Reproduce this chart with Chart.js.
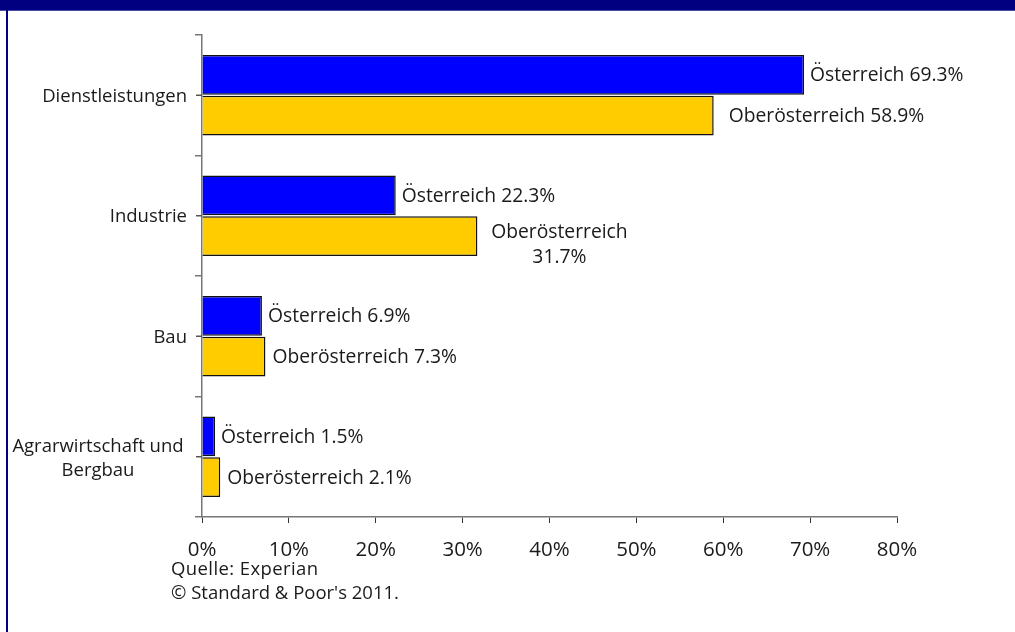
<!DOCTYPE html>
<html>
<head>
<meta charset="utf-8">
<script src="https://cdn.jsdelivr.net/npm/chart.js@4"></script>
<style>
  html, body { margin: 0; padding: 0; background: #fff; }
  #wrap { position: relative; width: 1015px; height: 632px; overflow: hidden; }
  #band { position: absolute; left: 0; top: 0; width: 1015px; height: 10px; background: #000080; border-bottom: 1px solid #4a4aa8; }
  #edge { position: absolute; left: 6px; top: 0; width: 2px; height: 632px; background: #000080; }
  #chart { position: absolute; left: 0; top: 0; }
  .note { position: absolute; left: 171px; font: 18.5px "Open Sans", sans-serif; color: #1a1a1a; white-space: nowrap; }
</style>
</head>
<body>
<div id="wrap">
  <canvas id="chart" width="1015" height="632"></canvas>
  <div id="band"></div>
  <div id="edge"></div>
  <div class="note" style="top:555px; letter-spacing:0.4px">Quelle: Experian</div>
  <div class="note" style="top:579px">© Standard &amp; Poor's 2011.</div>
</div>
<script>
'use strict'

const categories = ['Dienstleistungen', 'Industrie', 'Bau', ['Agrarwirtschaft und', 'Bergbau']];
const austria = [69.3, 22.3, 6.9, 1.5];
const upperAustria = [58.9, 31.7, 7.3, 2.1];
const seriesNames = ['Österreich', 'Oberösterreich'];
const xTicks = [0, 10, 20, 30, 40, 50, 60, 70, 80];

const FONT = '"Open Sans", sans-serif';

// value labels next to each bar, plus the category names on the left
const barLabels = {
  id: 'barLabels',
  afterDatasetsDraw(chart) {
    const ctx = chart.ctx;
    ctx.save();
    ctx.font = '19.3px ' + FONT;
    ctx.fillStyle = '#1a1a1a';
    ctx.textBaseline = 'middle';
    chart.data.datasets.forEach((ds, di) => {
      chart.getDatasetMeta(di).data.forEach((bar, i) => {
        const text = seriesNames[di] + ' ' + ds.data[i].toFixed(1) + '%';
        if (di === 1 && i === 1) {
          // this one was wrapped onto two lines in the original
          ctx.textAlign = 'center';
          ctx.fillText(seriesNames[di], bar.x + 82, bar.y - 4);
          ctx.fillText(ds.data[i].toFixed(1) + '%', bar.x + 82, bar.y + 21);
        } else {
          ctx.textAlign = 'left';
          const gap = (di === 1 && i === 0) ? 15 : (di === 1 ? 7 : 6);
          ctx.fillText(text, bar.x + gap, bar.y + 1);
        }
      });
    });

    ctx.font = '18.5px ' + FONT;
    const y = chart.scales.y;
    const x0 = chart.chartArea.left;
    categories.forEach((c, i) => {
      const cy = y.getPixelForValue(i);
      ctx.strokeStyle = '#555';
      ctx.lineWidth = 1.5;
      ctx.beginPath();
      ctx.moveTo(x0 - 6, cy);
      ctx.lineTo(x0, cy);
      ctx.stroke();
      if (Array.isArray(c)) {
        ctx.textAlign = 'center';
        ctx.fillText(c[0], 98, cy - 10);
        ctx.fillText(c[1], 98, cy + 14);
      } else {
        ctx.textAlign = 'right';
        ctx.fillText(c, 187, cy + 1);
      }
    });
    ctx.restore();
  }
};

new Chart(document.getElementById('chart'), {
  type: 'bar',
  data: {
    labels: categories,
    datasets: [{
      label: seriesNames[0],
      data: austria,
      backgroundColor: '#0000ff',
      borderColor: '#111',
      borderWidth: 1.5
    }, {
      label: seriesNames[1],
      data: upperAustria,
      backgroundColor: '#ffcc00',
      borderColor: '#111',
      borderWidth: 1.5
    }]
  },
  options: {
    indexAxis: 'y',
    responsive: false,
    animation: false,
    categoryPercentage: 0.68,
    barPercentage: 0.97,
    layout: { padding: { left: 0, top: 35, right: 118, bottom: 0 } },
    plugins: {
      legend: { display: false },
      tooltip: { enabled: false }
    },
    scales: {
      x: {
        min: 0,
        max: 80,
        afterBuildTicks: scale => { scale.ticks = xTicks.map(v => ({ value: v })); },
        afterFit: scale => { scale.height = 115; },
        border: { color: '#777', width: 1.5 },
        grid: { drawOnChartArea: false, tickLength: 6, color: '#333', lineWidth: 1 },
        ticks: {
          color: '#1a1a1a',
          font: { family: FONT, size: 20.5 },
          padding: 15,
          maxRotation: 0,
          callback: v => v + '%'
        }
      },
      y: {
        afterFit: scale => { scale.width = 202; },
        border: { color: '#777', width: 1.5 },
        grid: { drawOnChartArea: false, offset: true, tickLength: 7, color: '#777', lineWidth: 1.5 },
        ticks: { display: false }
      }
    }
  },
  plugins: [barLabels]
});
</script>
</body>
</html>
